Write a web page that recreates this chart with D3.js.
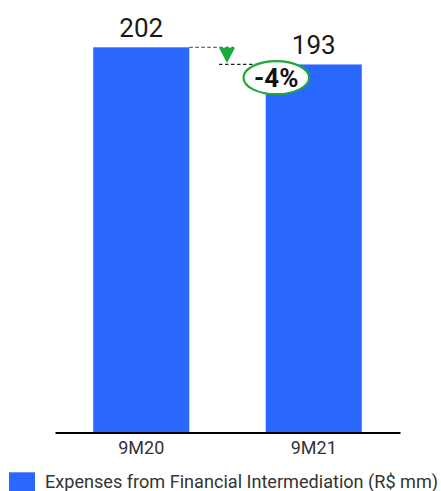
<!DOCTYPE html>
<html>
<head>
<meta charset="utf-8">
<script src="https://cdn.jsdelivr.net/npm/d3@7"></script>
<style>
  html, body { margin: 0; padding: 0; background: #fff; }
  svg { display: block; font-family: Roboto, "Noto Sans", sans-serif; }
</style>
</head>
<body>
<svg id="chart" width="441" height="491"></svg>
<script>
// Data
const categories = ["9M20", "9M21"];
const values = [202, 193];
const seriesName = "Expenses from Financial Intermediation (R$ mm)";
const changeLabel = "-4%";

const W = 441, H = 491;
const barColor = "#2a67ff";
const green = "#1ea83c";

const svg = d3.select("#chart");

const x = d3.scaleBand()
  .domain(categories)
  .range([55, 400])
  .paddingInner(0.443)
  .paddingOuter(0.2215);

const y = d3.scaleLinear()
  .domain([0, 202])
  .range([432.5, 47.3]);

// Bars
svg.append("g").selectAll("rect")
  .data(values)
  .join("rect")
  .attr("x", (d, i) => x(categories[i]))
  .attr("y", d => y(d))
  .attr("width", x.bandwidth())
  .attr("height", d => y(0) - y(d))
  .attr("fill", barColor);

// Value labels
svg.append("g").selectAll("text")
  .data(values)
  .join("text")
  .attr("x", (d, i) => x(categories[i]) + x.bandwidth() / 2)
  .attr("y", d => y(d) - 10.5)
  .attr("text-anchor", "middle")
  .attr("font-size", 26)
  .attr("fill", "#1a1a1a")
  .text(d => d);

// Axis
const axis = svg.append("g")
  .attr("transform", `translate(0,${y(0)})`)
  .call(d3.axisBottom(x).tickSize(0).tickPadding(9));
axis.select(".domain").attr("stroke", "#000").attr("stroke-width", 2);
axis.selectAll("text")
  .attr("font-size", 18)
  .attr("font-family", "Roboto, sans-serif")
  .attr("fill", "#333");

// Change annotation: dashed guides, arrow, and percentage badge
const x0 = x(categories[0]) + x.bandwidth();
const x1 = x(categories[1]);
const yA = y(values[0]);
const yB = y(values[1]);
const arrowX = 227;

svg.append("line")
  .attr("x1", x0).attr("x2", 234)
  .attr("y1", yA).attr("y2", yA)
  .attr("stroke", "#666").attr("stroke-width", 1.2)
  .attr("stroke-dasharray", "3.5,2.5");

svg.append("line")
  .attr("x1", 219).attr("x2", x1)
  .attr("y1", yB).attr("y2", yB)
  .attr("stroke", "#222").attr("stroke-width", 1.2)
  .attr("stroke-dasharray", "3.5,2.5");

svg.append("path")
  .attr("d", `M${arrowX - 8},${yA + 0.5} L${arrowX + 8},${yA + 0.5} L${arrowX},${yB - 1.5} Z`)
  .attr("fill", green);

const cx = 276.3, cy = 77.7;
svg.append("ellipse")
  .attr("cx", cx).attr("cy", cy)
  .attr("rx", 32.8).attr("ry", 16.5)
  .attr("fill", "#fff")
  .attr("stroke", green).attr("stroke-width", 2.2);

svg.append("text")
  .attr("x", cx).attr("y", cy + 9.3)
  .attr("text-anchor", "middle")
  .attr("font-size", 26)
  .attr("font-weight", "bold")
  .attr("fill", "#111")
  .text(changeLabel);

// Legend
const legend = svg.append("g");
legend.append("rect")
  .attr("x", 9).attr("y", 472.3)
  .attr("width", 26).attr("height", 19)
  .attr("fill", barColor);
legend.append("text")
  .attr("x", 45).attr("y", 488.3)
  .attr("font-size", 18.1)
  .attr("fill", "#333")
  .text(seriesName);
</script>
</body>
</html>
